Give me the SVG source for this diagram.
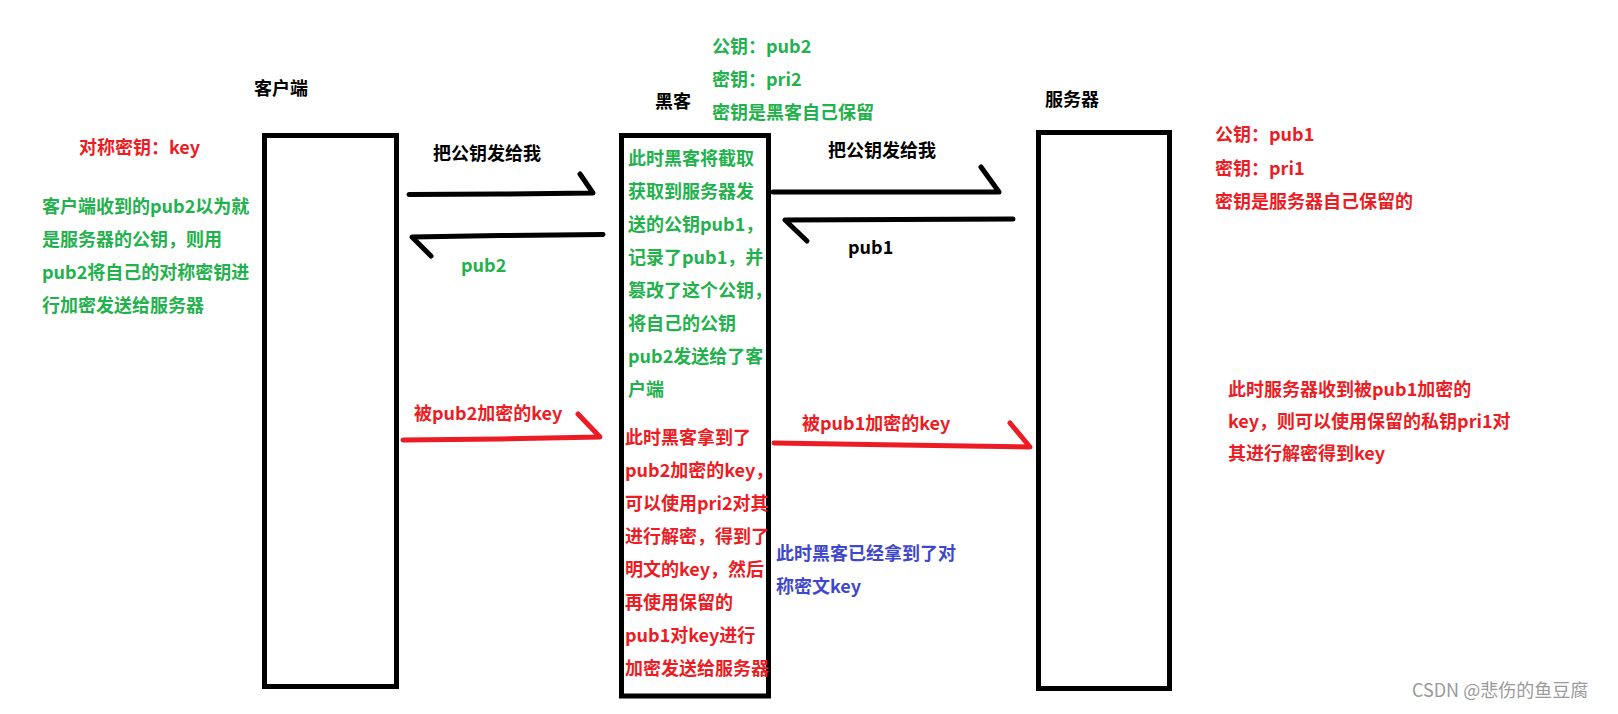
<svg xmlns="http://www.w3.org/2000/svg" width="1618" height="714" viewBox="0 0 1618 714">
<style>
text{font-family:"Microsoft YaHei","Noto Sans CJK SC","Noto Sans",sans-serif;font-size:18px;font-weight:bold}
.k{fill:#000}.g{fill:#22b14c}.r{fill:#ed1c24}.b{fill:#3f48cc}
.box{fill:#fff;stroke:#000;stroke-width:5}
.ln{fill:none;stroke-width:5;stroke-linecap:round;stroke-linejoin:round}
.lk{stroke:#000}.lr{stroke:#ed1c24}
.wm{fill:#9a9a9a;font-weight:normal}
</style>
<rect width="1618" height="714" fill="#fff"/>
<g id="client">
<rect class="box" x="264.5" y="135.5" width="132" height="551"/>
<text class="k" x="254" y="95">客户端</text>
<text class="r" x="79" y="154">对称密钥：key</text>
<text class="g" x="42" y="213">客户端收到的pub2以为就</text>
<text class="g" x="42" y="246">是服务器的公钥，则用</text>
<text class="g" x="42" y="279">pub2将自己的对称密钥进</text>
<text class="g" x="42" y="312">行加密发送给服务器</text>
</g>
<g id="hacker">
<rect class="box" x="621.5" y="135.5" width="147" height="560.5"/>
<text class="k" x="655" y="108">黑客</text>
<text class="g" x="712" y="53">公钥：pub2</text>
<text class="g" x="712" y="86">密钥：pri2</text>
<text class="g" x="712" y="119">密钥是黑客自己保留</text>
<text class="g" x="628" y="165">此时黑客将截取</text>
<text class="g" x="628" y="198">获取到服务器发</text>
<text class="g" x="628" y="231">送的公钥pub1，</text>
<text class="g" x="628" y="264">记录了pub1，并</text>
<text class="g" x="628" y="297">篡改了这个公钥，</text>
<text class="g" x="628" y="330">将自己的公钥</text>
<text class="g" x="628" y="363">pub2发送给了客</text>
<text class="g" x="628" y="396">户端</text>
<text class="r" x="625" y="444">此时黑客拿到了</text>
<text class="r" x="625" y="477">pub2加密的key，</text>
<text class="r" x="625" y="510">可以使用pri2对其</text>
<text class="r" x="625" y="543">进行解密，得到了</text>
<text class="r" x="625" y="576">明文的key，然后</text>
<text class="r" x="625" y="609">再使用保留的</text>
<text class="r" x="625" y="642">pub1对key进行</text>
<text class="r" x="625" y="675">加密发送给服务器</text>
<text class="b" x="776" y="560">此时黑客已经拿到了对</text>
<text class="b" x="776" y="593">称密文key</text>
</g>
<g id="server">
<rect class="box" x="1038.5" y="132.5" width="131" height="556"/>
<text class="k" x="1045" y="106">服务器</text>
<text class="r" x="1215" y="141">公钥：pub1</text>
<text class="r" x="1215" y="175">密钥：pri1</text>
<text class="r" x="1215" y="208">密钥是服务器自己保留的</text>
<text class="r" x="1228" y="396">此时服务器收到被pub1加密的</text>
<text class="r" x="1228" y="428">key，则可以使用保留的私钥pri1对</text>
<text class="r" x="1228" y="460">其进行解密得到key</text>
</g>
<g id="connectors">
<polyline class="ln lk" points="409,194.5 500,194 593,193 580,174"/>
<polyline class="ln lk" points="603,234.5 500,235.5 412,237 431,256"/>
<polyline class="ln lk" points="773,192 999,192 981,167"/>
<polyline class="ln lk" points="1013,219 785,220 807,241"/>
<polyline class="ln lr" points="403,440 500,439 600,437 578,414"/>
<polyline class="ln lr" points="774,443 900,445 1030,447 1010,423"/>
<text class="k" x="433" y="160">把公钥发给我</text>
<text class="g" x="461" y="272">pub2</text>
<text class="k" x="828" y="157">把公钥发给我</text>
<text class="k" x="848" y="254">pub1</text>
<text class="r" x="414" y="420">被pub2加密的key</text>
<text class="r" x="802" y="430">被pub1加密的key</text>
</g>
<text class="wm" x="1412" y="697">CSDN @悲伤的鱼豆腐</text>
</svg>
